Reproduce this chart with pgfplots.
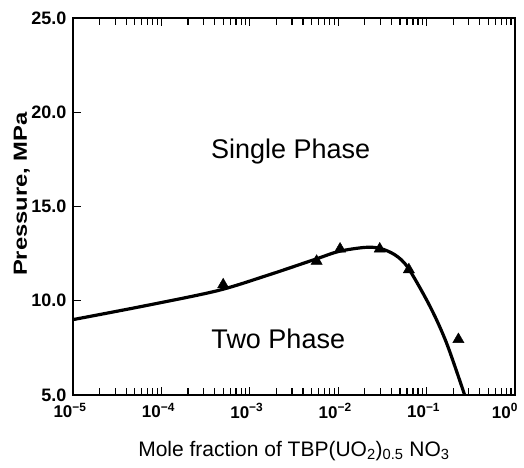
\documentclass[border=0pt]{standalone}
\usepackage{pgfplots}
\pgfplotsset{compat=1.18}
\usepackage{fontspec}
\setmainfont{Liberation Sans}
\newfontfamily\widefont[FakeStretch=1.25]{Liberation Sans}
\begin{document}
\begin{tikzpicture}
\useasboundingbox (-73pt,-72pt) rectangle (451pt,395pt);
\begin{axis}[
  at={(0,0)}, anchor=south west, scale only axis,
  width=442pt, height=377pt,
  xmode=log, xmin=1e-5, xmax=1, ymin=5, ymax=25,
  axis line style={line width=1.6pt},
  tick style={line width=1.2pt, black},
  tick align=inside,
  xtick pos=both, ytick pos=left,
  major tick length=8pt, minor tick length=7pt,
  xtick={1e-5,1e-4,1e-3,1e-2,1e-1,1},
  minor xtick={2e-5,3e-5,4e-5,5e-5,6e-5,7e-5,8e-5,9e-5,
               2e-4,3e-4,4e-4,5e-4,6e-4,7e-4,8e-4,9e-4,
               2e-3,3e-3,4e-3,5e-3,6e-3,7e-3,8e-3,9e-3,
               2e-2,3e-2,4e-2,5e-2,6e-2,7e-2,8e-2,9e-2,
               2e-1,3e-1,4e-1,5e-1,6e-1,7e-1,8e-1,9e-1},
  xticklabels={10\textsuperscript{−5},10\textsuperscript{−4},10\textsuperscript{−3},10\textsuperscript{−2},10\textsuperscript{−1},10\textsuperscript{0}\hspace*{14pt}},
  ytick={5,10,15,20,25},
  yticklabels={5.0,10.0,15.0,20.0,25.0},
  yticklabel style={font=\fontsize{18}{20}\selectfont\bfseries, xshift=-3pt},
  xticklabel style={font=\fontsize{17}{19}\selectfont\bfseries, yshift=-5pt, xshift=-3pt},
  xlabel={Mole fraction of TBP(UO\textsubscript{2})\textsubscript{0.5} NO\textsubscript{3}},
  xlabel style={font=\fontsize{21}{24}\selectfont, at={(axis description cs:0.5,-0.148)}, anchor=center},
  ylabel={Pressure, MPa},
  ylabel style={font=\fontsize{19}{21}\widefont\bfseries, at={(axis description cs:-0.116,0.533)}, anchor=center, rotate=0},
]
\addplot[black, line width=3.2pt, smooth] coordinates {
  (1e-5,9.0) (6.31e-5,9.72) (4.27e-4,10.53) (1.585e-3,11.35) (5.5e-3,12.2)
  (1.02e-2,12.62) (2.0e-2,12.83) (2.97e-2,12.78) (4.4e-2,12.43) (6.17e-2,11.75)
  (0.1096,9.69) (0.1687,7.74) (0.2716,4.95)
};
\addplot[only marks, mark=triangle*, mark size=6.5pt, black] coordinates {
  (5.0e-4,10.85) (5.7e-3,12.1) (1.05e-2,12.75) (2.95e-2,12.75) (6.3e-2,11.65) (0.229,7.95)
};
\node[font=\fontsize{27}{30}\selectfont] at (axis cs:2.9e-3,17.9) {Single Phase};
\node[font=\fontsize{27}{30}\selectfont] at (axis cs:2.1e-3,8.0) {Two Phase};
\end{axis}
\end{tikzpicture}
\end{document}
